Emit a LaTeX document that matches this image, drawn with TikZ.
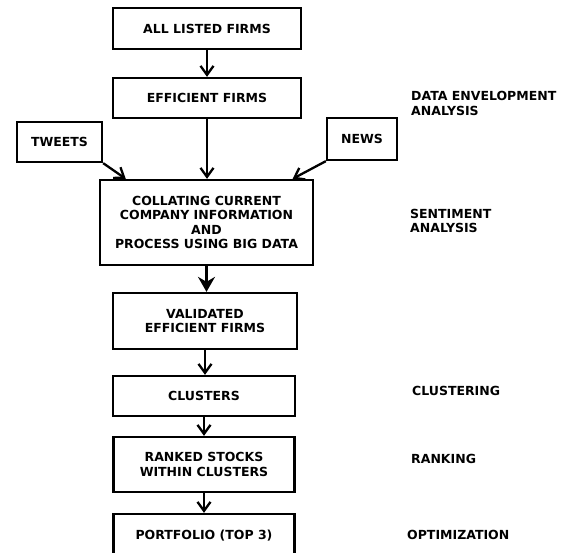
\documentclass[tikz,border=0pt]{standalone}
\usepackage{fontspec}
\setmainfont{DejaVu Sans}
\usetikzlibrary{arrows.meta, calc}
\tikzset{
  step box/.style={
    draw,
    line width=2.3pt,
    align=center,
    font=\bfseries\fontsize{12.5}{14.5}\selectfont,
  },
  side label/.style={
    anchor=west,
    inner sep=0pt,
    align=left,
    font=\bfseries\fontsize{12.5}{14.5}\selectfont,
  },
  flow/.style={
    line width=2.3pt,
    -{Straight Barb[length=9pt,width=13pt,line width=2.3pt]},
  },
  bold flow/.style={
    line width=2.3pt,
    -{Stealth[length=15pt,width=17pt,inset=5pt]},
  },
}

\begin{document}
\begin{tikzpicture}[x=1pt, y=-1pt]
      \useasboundingbox (0,0) rectangle (566,553);

      \node[step box, minimum width=188pt, minimum height=41pt] (allfirms)  at (207,28.5) {ALL LISTED FIRMS};
      \node[step box, minimum width=188pt, minimum height=40pt] (efficient) at (207,98)   {EFFICIENT FIRMS};
      \node[step box, minimum width=85pt,  minimum height=40pt] (tweets)    at (59.5,142) {TWEETS};
      \node[step box, minimum width=70pt,  minimum height=42pt] (news)      at (362,139)  {NEWS};
      \node[step box, minimum width=213pt, minimum height=85pt] (collate)   at (206.5,222.5)
        {COLLATING CURRENT\\COMPANY INFORMATION\\AND\\PROCESS USING BIG DATA};
      \node[step box, minimum width=184pt, minimum height=56pt] (validated) at (205,321)  {VALIDATED\\EFFICIENT FIRMS};
      \node[step box, minimum width=182pt, minimum height=40pt] (clusters)  at (204,396)  {CLUSTERS};
      \node[step box, minimum width=181pt, minimum height=55pt] (ranked)    at (204,464.5) {RANKED STOCKS\\WITHIN CLUSTERS};
      \node[step box, minimum width=181pt, minimum height=44pt] (portfolio) at (204,536)  {PORTFOLIO (TOP 3)};

      \node[side label] (dea)          at (411,103.5) {DATA ENVELOPMENT\\ANALYSIS};
      \node[side label] (sentiment)    at (410,221)   {SENTIMENT\\ANALYSIS};
      \node[side label] (clustering)   at (412,391)   {CLUSTERING};
      \node[side label] (ranking)      at (411,459)   {RANKING};
      \node[side label] (optimization) at (407,535)   {OPTIMIZATION};

      \draw[flow] (allfirms) -- (efficient);
      \draw[flow] (efficient) -- (efficient |- collate.north);
      \draw[flow] (tweets.south east) -- ($(collate.north west)!0.125!(collate.north east)$);
      \draw[flow] (news.south west) -- ($(collate.north west)!0.9!(collate.north east)$);
      \draw[bold flow] (collate) -- (collate |- validated.north);
      \draw[flow] (validated) -- (validated |- clusters.north);
      \draw[flow] (clusters) -- (ranked);
      \draw[flow] (ranked) -- (portfolio);
    \end{tikzpicture}
\end{document}
